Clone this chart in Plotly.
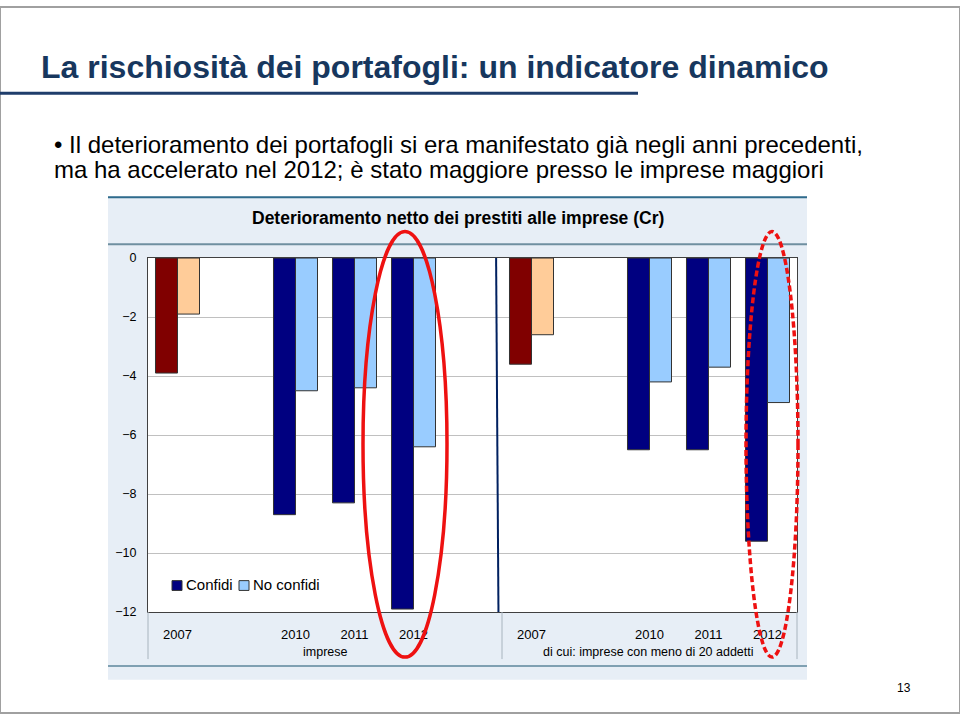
import plotly.graph_objects as go

# ---- data ----
slot_labels = ["2007", "", "2010", "2011", "2012", "", "2007", "", "2010", "2011", "2012"]
years = ["2007", "2010", "2011", "2012"]
imprese_confidi = [-3.9, -8.7, -8.3, -11.9]
imprese_no_confidi = [-1.9, -4.5, -4.4, -6.4]
piccole_confidi = [-3.6, -6.5, -6.5, -9.6]
piccole_no_confidi = [-2.6, -4.2, -3.7, -4.9]
group_labels = ["imprese", "di cui: imprese con meno di 20 addetti"]
series_names = ["Confidi", "No confidi"]
y_ticks = [0, -2, -4, -6, -8, -10, -12]

# slot positions of the years on the category axis
left_pos = [0, 2, 3, 4]
right_pos = [6, 8, 9, 10]

W, H = 960, 720
def px(x):
    return x / W
def py(y):
    return 1 - y / H

FONT = "Liberation Sans, Arial"
NAVY = "#000080"
LIGHT = "#99CCFF"
DRED = "#800000"
PEACH = "#FFCC99"
BW = 0.373

fig = go.Figure()

def add_bars(xs, ys, color, offset, name):
    fig.add_trace(go.Bar(
        x=xs, y=ys, name=name, showlegend=False,
        offset=offset, width=BW,
        marker=dict(color=color, line=dict(color="#333333", width=1)),
        hoverinfo="x+y",
    ))

add_bars(left_pos[1:] + right_pos[1:], imprese_confidi[1:] + piccole_confidi[1:], NAVY, -BW, series_names[0])
add_bars(left_pos[1:] + right_pos[1:], imprese_no_confidi[1:] + piccole_no_confidi[1:], LIGHT, 0, series_names[1])
add_bars([left_pos[0], right_pos[0]], [imprese_confidi[0], piccole_confidi[0]], DRED, -BW, series_names[0] + " 2007")
add_bars([left_pos[0], right_pos[0]], [imprese_no_confidi[0], piccole_no_confidi[0]], PEACH, 0, series_names[1] + " 2007")

# separator line between panels (data coords)
fig.add_shape(type="line", xref="x", yref="y", x0=5.40, x1=5.44, y0=0, y1=-12,
              line=dict(color="#002060", width=2), layer="above")

shapes = []
shapes.append(dict(type="rect", xref="paper", yref="paper", x0=0, x1=1, y0=0, y1=1,
                   line=dict(color="#A0A0A0", width=2), fillcolor="rgba(0,0,0,0)", layer="below"))
shapes.append(dict(type="line", xref="paper", yref="paper", x0=px(0), x1=px(638), y0=py(88), y1=py(88),
                   line=dict(color="#1F3D6B", width=3)))
shapes.append(dict(type="rect", xref="paper", yref="paper", x0=px(108), x1=px(807), y0=py(686), y1=py(193),
                   line=dict(width=0), fillcolor="#E7EEF6", layer="below"))
shapes.append(dict(type="line", xref="paper", yref="paper", x0=px(108), x1=px(807), y0=py(194), y1=py(194),
                   line=dict(color="#2F6B8C", width=2)))
shapes.append(dict(type="line", xref="paper", yref="paper", x0=px(108), x1=px(807), y0=py(242), y1=py(242),
                   line=dict(color="#6F8FA0", width=2)))
shapes.append(dict(type="line", xref="paper", yref="paper", x0=px(108), x1=px(807), y0=py(672), y1=py(672),
                   line=dict(color="#7FA0B2", width=2)))
shapes.append(dict(type="rect", xref="paper", yref="paper", x0=px(148), x1=px(797), y0=py(617), y1=py(256),
                   line=dict(width=0), fillcolor="white", layer="below"))
for xv in [148, 502, 797]:
    shapes.append(dict(type="line", xref="paper", yref="paper", x0=px(xv), x1=px(xv), y0=py(617), y1=py(665),
                       line=dict(color="#A8B4BE", width=1)))
# legend squares
shapes.append(dict(type="rect", xref="paper", yref="paper", x0=px(172), x1=px(182), y0=py(595), y1=py(585),
                   line=dict(color="#333333", width=1), fillcolor=NAVY))
shapes.append(dict(type="rect", xref="paper", yref="paper", x0=px(239), x1=px(249), y0=py(595), y1=py(585),
                   line=dict(color="#333333", width=1), fillcolor=LIGHT))
# red ellipses
shapes.append(dict(type="circle", xref="paper", yref="paper", x0=px(363), x1=px(447), y0=py(663), y1=py(229),
                   line=dict(color="#EE1111", width=3.5)))
shapes.append(dict(type="circle", xref="paper", yref="paper", x0=px(746), x1=px(798), y0=py(663), y1=py(229),
                   line=dict(color="#EE1111", width=3.5, dash="6px,3px")))
for s in shapes:
    fig.add_shape(**s)

ann = []
ann.append(dict(text="<b>La rischiosità dei portafogli: un indicatore dinamico</b>",
                x=px(39), y=py(61), xanchor="left", yanchor="middle",
                font=dict(family=FONT, size=32, color="#17375E")))
ann.append(dict(text="• Il deterioramento dei portafogli si era manifestato già negli anni precedenti,",
                x=px(52), y=py(140), xanchor="left", yanchor="middle",
                font=dict(family=FONT, size=24, color="#000000")))
ann.append(dict(text="ma ha accelerato nel 2012; è stato maggiore presso le imprese maggiori",
                x=px(52), y=py(166), xanchor="left", yanchor="middle",
                font=dict(family=FONT, size=24, color="#000000")))
ann.append(dict(text="<b>Deterioramento netto dei prestiti alle imprese (Cr)</b>",
                x=px(458), y=py(215), xanchor="center", yanchor="middle",
                font=dict(family=FONT, size=17.5, color="#000000")))
ann.append(dict(text=group_labels[0], x=px(325), y=py(658), xanchor="center", yanchor="middle",
                font=dict(family=FONT, size=12.5, color="#000000")))
ann.append(dict(text=group_labels[1], x=px(648), y=py(658), xanchor="center", yanchor="middle",
                font=dict(family=FONT, size=12.5, color="#000000")))
ann.append(dict(text=series_names[0], x=px(184), y=py(589), xanchor="left", yanchor="middle",
                font=dict(family=FONT, size=15, color="#000000")))
ann.append(dict(text=series_names[1], x=px(251), y=py(589), xanchor="left", yanchor="middle",
                font=dict(family=FONT, size=15, color="#000000")))
ann.append(dict(text="13", x=px(904), y=py(694), xanchor="center", yanchor="middle",
                font=dict(family=FONT, size=12, color="#000000")))
for a in ann:
    fig.add_annotation(xref="paper", yref="paper", showarrow=False, **a)

tickvals = [i for i, l in enumerate(slot_labels) if l]
ticktext = [l for l in slot_labels if l]

fig.update_layout(
    width=W, height=H,
    margin=dict(l=0, r=0, t=0, b=0),
    paper_bgcolor="white", plot_bgcolor="white",
    barmode="overlay",
    font=dict(family=FONT, color="#000000"),
    xaxis=dict(domain=[px(148), px(797)], range=[-0.5, 10.5],
               tickvals=tickvals, ticktext=ticktext, tickfont=dict(size=13),
               showgrid=False, zeroline=False, showline=True, linecolor="#404040", linewidth=1,
               mirror=True, ticks="", ticklabelstandoff=10),
    yaxis=dict(domain=[py(617), py(256)], range=[-12, 0], tickvals=y_ticks,
               tickfont=dict(size=12.5), showgrid=True, gridcolor="#C0C0C0", gridwidth=1,
               zeroline=False, showline=True, linecolor="#404040", linewidth=1, mirror=True,
               ticks="", ticklabelstandoff=8),
    showlegend=False,
)

fig.write_html("out.html")
